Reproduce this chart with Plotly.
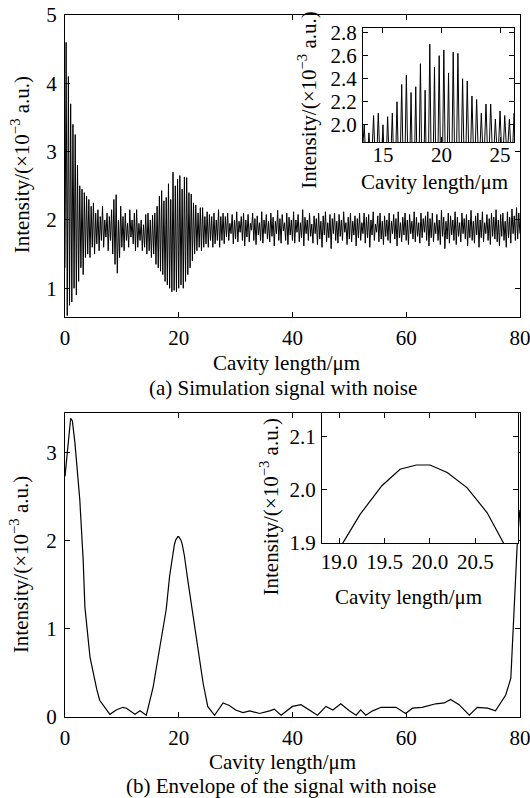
import plotly.graph_objects as go

# simulated signal with noise, sampled every 0.2 um from 0 to 80 um
step = 0.2
signal = [
    1.3, 4.6, 0.6, 4.1, 0.75, 3.7, 0.8, 3.4, 1.0, 3.25, 0.9, 2.8, 1.1, 2.5, 1.3, 2.45, 1.2, 2.4, 1.45, 2.35,
    1.5, 2.3, 1.45, 2.2, 1.6, 2.25, 1.5, 2.1, 1.65, 2.15, 1.55, 2.05, 1.7, 2.2, 1.6, 2.0, 1.75, 2.1, 1.55, 2.05,
    1.7, 2.15, 1.5, 2.3, 1.35, 2.37, 1.22, 2.0, 1.45, 2.2, 1.6, 2.05, 1.55, 2.1, 1.7, 1.95, 1.6, 2.15, 1.75, 2.0,
    1.65, 2.1, 1.55, 2.15, 1.6, 1.95, 1.7, 2.0, 1.55, 1.93, 1.6, 2.08, 1.5, 2.1, 1.55, 2.0, 1.45, 2.07, 1.5, 2.1,
    1.35, 2.2, 1.3, 2.35, 1.25, 2.43, 1.2, 2.28, 1.1, 2.33, 1.05, 2.53, 1.0, 2.3, 0.95, 2.7, 0.97, 2.5, 0.95, 2.6,
    1.0, 2.65, 1.05, 2.45, 1.0, 2.63, 1.1, 2.62, 1.2, 2.4, 1.3, 2.38, 1.4, 2.25, 1.5, 2.22, 1.55, 2.1, 1.6, 2.18,
    1.55, 2.18, 1.6, 2.05, 1.65, 2.12, 1.6, 2.08, 1.7, 2.05, 1.6, 2.1, 1.65, 2.0, 1.7, 2.15, 1.6, 2.05, 1.7, 2.1,
    1.65, 2.05, 1.75, 2.1, 1.7, 1.95, 1.8, 2.08, 1.65, 2.0, 1.72, 2.12, 1.68, 1.98, 1.82, 2.05, 1.7, 2.1, 1.62, 2.0,
    1.75, 2.08, 1.68, 1.95, 1.85, 2.1, 1.7, 2.02, 1.64, 2.06, 1.78, 1.96, 1.7, 2.12, 1.66, 2.0, 1.8, 2.08, 1.72, 1.98,
    1.68, 2.1, 1.76, 2.04, 1.62, 1.98, 1.8, 2.14, 1.7, 2.02, 1.66, 2.08, 1.84, 1.96, 1.7, 2.1, 1.64, 2.04, 1.78, 2.0,
    1.7, 2.12, 1.66, 2.0, 1.82, 2.08, 1.68, 1.96, 1.74, 2.15, 1.62, 2.04, 1.8, 2.0, 1.7, 2.1, 1.76, 1.94, 1.66, 2.06,
    1.8, 2.02, 1.64, 2.1, 1.72, 1.98, 1.6, 2.06, 1.78, 2.12, 1.68, 1.96, 1.74, 2.08, 1.58, 2.02, 1.8, 2.1, 1.7, 1.98,
    1.66, 2.08, 1.76, 2.0, 1.7, 2.12, 1.82, 1.96, 1.64, 2.04, 1.72, 2.1, 1.68, 1.98, 1.78, 2.06, 1.62, 2.02, 1.74, 2.1,
    1.7, 1.96, 1.8, 2.1, 1.66, 2.04, 1.74, 2.08, 1.6, 2.0, 1.78, 2.12, 1.7, 1.94, 1.82, 2.06, 1.68, 2.1, 1.72, 1.98,
    1.64, 2.06, 1.76, 2.0, 1.7, 2.1, 1.66, 1.98, 1.8, 2.08, 1.72, 2.02, 1.62, 2.12, 1.74, 1.96, 1.68, 2.04, 1.78, 2.1,
    1.7, 2.0, 1.64, 2.08, 1.8, 1.98, 1.72, 2.12, 1.68, 2.04, 1.76, 1.96, 1.66, 2.1, 1.74, 2.02, 1.82, 2.06, 1.7, 2.12,
    1.62, 2.02, 1.74, 2.1, 1.68, 1.96, 1.8, 2.08, 1.7, 2.0, 1.64, 2.14, 1.76, 2.04, 1.58, 1.98, 1.72, 2.1, 1.66, 2.06,
    1.78, 2.0, 1.7, 2.12, 1.64, 2.04, 1.76, 1.96, 1.68, 2.1, 1.8, 2.02, 1.72, 2.08, 1.62, 2.0, 1.74, 2.14, 1.7, 1.98,
    1.66, 2.06, 1.78, 2.1, 1.6, 2.0, 1.74, 2.12, 1.68, 1.96, 1.8, 2.08, 1.7, 2.02, 1.64, 2.1, 1.76, 2.04, 1.72, 2.15,
    1.68, 2.0, 1.62, 2.08, 1.76, 2.1, 1.7, 1.98, 1.6, 2.12, 1.74, 2.04, 1.66, 2.16, 1.8, 2.06, 1.7, 2.18, 1.72, 2.1,
    1.8,
]
cavity = [round(i * step, 1) for i in range(len(signal))]

# envelope of the signal
env_x = [0, 0.4, 0.8, 1.0, 1.3, 1.75, 2.6, 3.2, 3.5, 4.4, 5.6, 6.1, 7.9, 9.0, 10.2, 10.8, 12.3, 13.2, 14.3,
         15.5, 16.7, 17.8, 18.4, 19.04, 19.23, 19.47, 19.67, 19.85, 20.0, 20.19, 20.41, 20.63, 20.81, 21.0,
         21.6, 22.2, 23.1, 24.3, 25.1, 26.3, 27.8, 28.9, 30.0, 31.3, 32.5, 34.2, 36.0, 36.8, 38.0, 40.0,
         41.5, 43.0, 44.4, 45.9, 47.1, 48.5, 50.0, 51.2, 52.0, 52.9, 54.1, 55.6, 58.2, 59.9, 61.1, 62.8,
         65.2, 66.7, 67.8, 69.3, 71.1, 72.5, 74.3, 75.7, 77.5, 78.4, 79.0, 79.2, 79.5, 79.8, 80.0]
env_y = [2.73, 3.0, 3.33, 3.39, 3.36, 3.11, 2.47, 1.78, 1.25, 0.68, 0.31, 0.19, 0.03, 0.08, 0.11, 0.10, 0.03,
         0.07, 0.02, 0.34, 0.8, 1.22, 1.6, 1.9, 1.954, 2.008, 2.039, 2.047, 2.047, 2.033, 2.004, 1.957, 1.9,
         1.83, 1.55, 1.3, 0.88, 0.38, 0.12, 0.02, 0.16, 0.13, 0.08, 0.05, 0.07, 0.04, 0.07, 0.09, 0.02, 0.12,
         0.14, 0.08, 0.02, 0.12, 0.08, 0.15, 0.07, 0.02, 0.08, 0.02, 0.07, 0.11, 0.11, 0.04, 0.10, 0.11,
         0.15, 0.16, 0.2, 0.14, 0.02, 0.11, 0.10, 0.07, 0.25, 0.44, 1.24, 1.6, 1.93, 2.2, 2.35]

FONT = "Liberation Serif, Times New Roman, serif"
YLAB = "Intensity/(×10<sup>−3</sup> a.u.)"
XLAB = "Cavity length/μm"

fig = go.Figure()
line = dict(color="black", width=1.0)
fig.add_trace(go.Scatter(x=cavity, y=signal, mode="lines", line=line, xaxis="x", yaxis="y"))
fig.add_trace(go.Scatter(x=cavity, y=signal, mode="lines", line=line, xaxis="x2", yaxis="y2"))
fig.add_trace(go.Scatter(x=env_x, y=env_y, mode="lines", line=dict(color="black", width=1.2),
                         xaxis="x3", yaxis="y3"))
fig.add_trace(go.Scatter(x=env_x, y=env_y, mode="lines", line=dict(color="black", width=1.2),
                         xaxis="x4", yaxis="y4"))


def ax(domain, rng, tickvals, fmt=None, anchor=None, standoff=3):
    d = dict(domain=domain, range=rng, tickvals=tickvals, showline=True, linecolor="black",
             linewidth=1.2, mirror="allticks", ticks="inside", ticklen=5, tickcolor="black",
             showgrid=False, zeroline=False, anchor=anchor, ticklabelstandoff=standoff,
             automargin=False, ticklabeloverflow="allow",
             tickfont=dict(family=FONT, size=21, color="black"))
    if fmt:
        d["tickformat"] = fmt
    return d


fig.update_layout(
    template="none",
    width=530, height=798, showlegend=False,
    margin=dict(l=0, r=0, t=0, b=0, autoexpand=False),
    paper_bgcolor="white", plot_bgcolor="white",
    xaxis=ax([0.1226, 0.981], [0, 80], [0, 20, 40, 60, 80], anchor="y", standoff=2),
    yaxis=ax([0.6028, 0.9812], [0.58, 5], [1, 2, 3, 4, 5], anchor="x"),
    xaxis2=ax([0.685, 0.970], [13.3, 26.2], [15, 20, 25], anchor="y2", standoff=-6),
    yaxis2=ax([0.822, 0.9649], [1.85, 2.84], [2.0, 2.2, 2.4, 2.6, 2.8], ".1f", anchor="x2", standoff=1),
    xaxis3=ax([0.1226, 0.981], [0, 80], [0, 20, 40, 60, 80], anchor="y3", standoff=2),
    yaxis3=ax([0.1015, 0.4825], [0, 3.45], [0, 1, 2, 3], anchor="x3"),
    xaxis4=ax([0.6075, 0.9774], [18.81, 20.97], [19.0, 19.5, 20.0, 20.5], ".1f", anchor="y4", standoff=0),
    yaxis4=ax([0.3195, 0.4825], [1.9, 2.145], [1.9, 2.0, 2.1], ".1f", anchor="x4", standoff=1),
)

# white backgrounds for the insets
for n in ("2", "4"):
    fig.add_shape(type="rect", xref=f"x{n} domain", yref=f"y{n} domain", x0=0, x1=1, y0=0, y1=1,
                  fillcolor="white", line=dict(width=0), layer="below")

txt = dict(family=FONT, size=21, color="black")
labels = [
    (0.038, 0.793, YLAB, -90), (0.54, 0.545, XLAB, 0), (0.534, 0.514, "(a) Simulation signal with noise", 0),
    (0.581, 0.875, YLAB, -90), (0.819, 0.772, XLAB, 0),
    (0.038, 0.292, YLAB, -90), (0.533, 0.045, XLAB, 0), (0.531, 0.015, "(b) Envelope of the signal with noise", 0),
    (0.509, 0.365, YLAB, -90), (0.77, 0.252, XLAB, 0),
]
for x, y, t, a in labels:
    fig.add_annotation(x=x, y=y, xref="paper", yref="paper", text=t, textangle=a, showarrow=False,
                       font=txt, xanchor="center", yanchor="middle")

# the page's default body margin would push the figure 8px off
fig.write_html("out.html", config={"displayModeBar": False},
               post_script="document.body.style.margin='0';")
